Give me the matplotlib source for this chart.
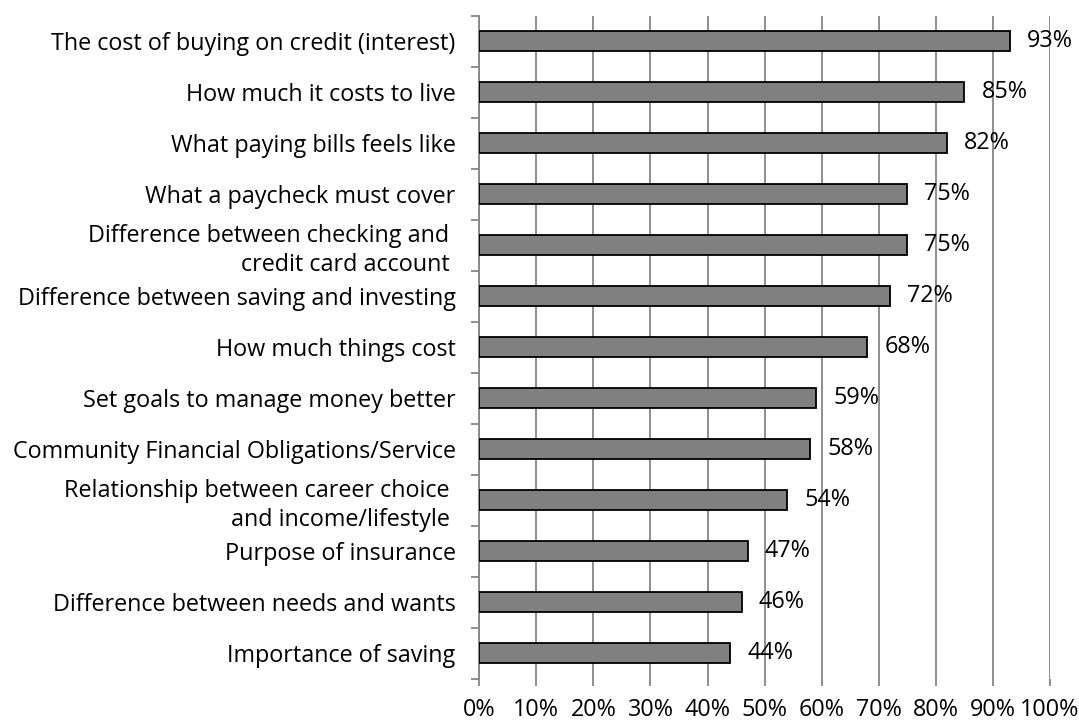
import matplotlib
matplotlib.use('Agg')
import matplotlib.pyplot as plt
import numpy as np

categories = [
    'The cost of buying on credit (interest)',
    'How much it costs to live',
    'What paying bills feels like',
    'What a paycheck must cover',
    'Difference between checking and \ncredit card account ',
    'Difference between saving and investing',
    'How much things cost',
    'Set goals to manage money better',
    'Community Financial Obligations/Service',
    'Relationship between career choice \nand income/lifestyle ',
    'Purpose of insurance',
    'Difference between needs and wants',
    'Importance of saving',
]
values = [93, 85, 82, 75, 75, 72, 68, 59, 58, 54, 47, 46, 44]
xticks = np.arange(0, 101, 10)

plt.rcParams['font.family'] = ['Open Sans', 'DejaVu Sans']
fs = 16.8

fig = plt.figure(figsize=(10.79, 7.23), dpi=100)
ax = fig.add_axes([0.4442, 0.0613, 0.9731 - 0.4442, 0.9783 - 0.0613])

ypos = np.arange(len(categories))
ax.barh(ypos, values, height=0.4, color='#808080', edgecolor='black', linewidth=1.3, zorder=3)

# value labels just past the bar ends
for y, v in zip(ypos, values):
    ax.text(v + 3, y, '%d%%' % v, va='center', ha='left', fontsize=fs, zorder=4)

ax.set_xlim(0, 100)
ax.set_ylim(len(categories) - 0.5, -0.5)
ax.set_xticks(xticks)
ax.set_xticklabels(['%d%%' % t for t in xticks], fontsize=fs)
ax.set_yticks(ypos)
ax.set_yticklabels(categories, fontsize=fs, linespacing=1.25)
ax.set_yticks(np.arange(-0.5, len(categories), 1), minor=True)

ax.grid(axis='x', color='#868686', linewidth=1.3, zorder=0)
ax.tick_params(axis='x', length=5, width=1.3, color='#868686', pad=9)
ax.tick_params(axis='y', which='major', length=0, pad=17)
ax.tick_params(axis='y', which='minor', length=6, width=1.3, color='#868686')

for s in ['top', 'right', 'bottom']:
    ax.spines[s].set_visible(False)
ax.spines['left'].set_color('#868686')
ax.spines['left'].set_linewidth(1.3)

fig.savefig('out.png', dpi=100)
